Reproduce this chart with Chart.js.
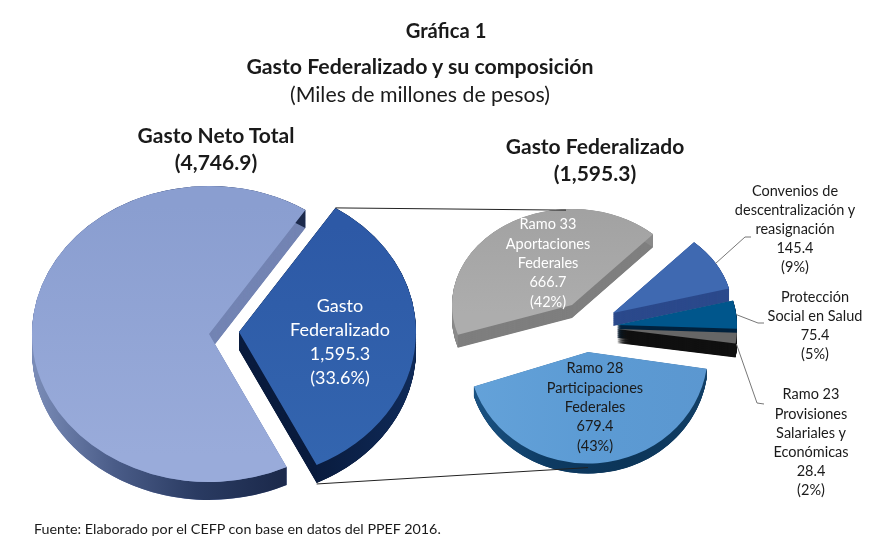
<!DOCTYPE html>
<html lang="es">
<head>
<meta charset="utf-8">
<title>Gráfica 1</title>
<script src="https://cdn.jsdelivr.net/npm/chart.js@4"></script>
<style>
  html, body { margin: 0; padding: 0; background: #fff; }
  #page { position: relative; width: 890px; height: 557px; overflow: hidden; font-family: Lato, sans-serif; color: #1a1a1a; }
  canvas { position: absolute; left: 0; top: 0; }
  .txt { position: absolute; text-align: center; white-space: nowrap; transform: translateX(-50%); }
  .b { font-weight: 700; }
</style>
</head>
<body>
<div id="page">
  <canvas id="totalPie" width="890" height="557"></canvas>
  <canvas id="fedPie" width="890" height="557"></canvas>
</div>
<script>
// datos (miles de millones de pesos)
const totalCategories = ['Gasto Federalizado', 'Resto del gasto'];
const totalValues = [1595.3, 3151.6];
const fedCategories = ['Ramo 33 Aportaciones Federales', 'Convenios de descentralización y reasignación', 'Protección Social en Salud', 'Ramo 23 Provisiones Salariales y Económicas', 'Ramo 28 Participaciones Federales'];
const fedValues = [666.7, 145.4, 75.4, 28.4, 679.4];
const fedShares = ['42%', '9%', '5%', '2%', '43%'];

const fmt = v => v.toLocaleString('en-US', { minimumFractionDigits: 1, maximumFractionDigits: 1 });

// los gradientes se usan ya con el origen en el centro de la rebanada
function hgrad(ctx, x0, x1, stops) {
  const g = ctx.createLinearGradient(x0, 0, x1, 0);
  stops.forEach((c, i) => g.addColorStop(i / (stops.length - 1), c));
  return g;
}
function vgrad(ctx, y0, y1, c0, c1) {
  const g = ctx.createLinearGradient(0, y0, 0, y1);
  g.addColorStop(0, c0);
  g.addColorStop(1, c1);
  return g;
}

// posicion en pantalla de un punto de una rebanada
function slicePoint(chart, i, angle, radiusFactor, extraY) {
  const o = chart.options.plugins.pie3d;
  const el = chart.getDatasetMeta(0).data[i];
  const r = el.outerRadius * (radiusFactor || 1);
  return {
    x: el.x + o.explode[i][0] + r * Math.cos(angle),
    y: el.y + o.explode[i][1] + o.squash[i] * r * Math.sin(angle) + (extraY || 0)
  };
}
const midAngle = el => (el.startAngle + el.endAngle) / 2;

const pie3d = {
  id: 'pie3d',
  beforeDatasetDraw(chart, args, o) {
    const ctx = chart.ctx;
    const arcs = chart.getDatasetMeta(0).data;
    o.order.forEach(i => {
      const el = arcs[i];
      const k = o.squash[i];
      const d = o.depth[i] / k;
      ctx.save();
      ctx.translate(el.x + o.explode[i][0], el.y + o.explode[i][1]);
      ctx.scale(1, k);
      // pared: cortes rectos
      ctx.fillStyle = o.wall[i];
      for (let s = d; s > 0; s -= 0.5) {
        ctx.beginPath();
        ctx.moveTo(0, s);
        ctx.arc(0, s, el.outerRadius, el.startAngle, el.endAngle);
        ctx.closePath();
        ctx.fill();
      }
      // pared: borde exterior
      ctx.fillStyle = o.rim[i];
      ctx.beginPath();
      ctx.arc(0, 0, el.outerRadius, el.startAngle, el.endAngle);
      ctx.arc(0, d, el.outerRadius, el.endAngle, el.startAngle, true);
      ctx.closePath();
      ctx.fill();
      ctx.translate(-el.x, -el.y);
      el.draw(ctx);
      ctx.restore();
    });
    return false;
  }
};

const leaderLines = {
  id: 'leaderLines',
  afterDatasetsDraw(chart) {
    const ctx = chart.ctx;
    const arcs = chart.getDatasetMeta(0).data;
    const other = totalChart.getDatasetMeta(0).data[0];
    // lineas entre las dos graficas
    const a = slicePoint(totalChart, 0, other.startAngle, 1, 0);
    const b = slicePoint(chart, 0, -Math.PI / 2 - 0.05, 1, 1);
    const c = slicePoint(totalChart, 0, other.endAngle, 1, 19);
    const e = slicePoint(chart, 4, Math.PI / 2, 1, 4);
    ctx.strokeStyle = '#222';
    ctx.lineWidth = 1;
    [[a, b], [c, e]].forEach(([p, q]) => {
      ctx.beginPath();
      ctx.moveTo(p.x, p.y);
      ctx.lineTo(q.x, q.y);
      ctx.stroke();
    });
    // lineas guia de las etiquetas
    ctx.strokeStyle = '#777';
    [[1, [[745, 237], [751, 237]]], [2, [[758, 323], [764, 323]]], [3, [[757, 403], [764, 404]]]].forEach(([i, pts]) => {
      const s = slicePoint(chart, i, midAngle(arcs[i]), 1, i === 3 ? 6 : 0);
      ctx.beginPath();
      ctx.moveTo(s.x, s.y);
      pts.forEach(p => ctx.lineTo(p[0], p[1]));
      ctx.stroke();
    });
  }
};

const tctx = document.getElementById('totalPie').getContext('2d');
const totalChart = new Chart(tctx, {
  type: 'pie',
  data: {
    labels: totalCategories,
    datasets: [{
      data: totalValues,
      borderWidth: 0,
      backgroundColor: [vgrad(tctx, 210, 490, '#2d59a6', '#3365af'), vgrad(tctx, 185, 480, '#8a9ed0', '#99abda')]
    }]
  },
  options: {
    responsive: false,
    animation: false,
    rotation: 33,
    layout: { padding: { left: 36, right: 500, top: 160, bottom: 43 } },
    events: [],
    plugins: {
      legend: { display: false },
      tooltip: { enabled: false },
      pie3d: {
        order: [1, 0],
        explode: [[26, -5], [-4, -3]],
        squash: [0.836, 0.836],
        depth: [18, 18],
        wall: ['#0a1c3e', '#7485b4'],
        rim: [hgrad(tctx, 60, 175, ['#08193a', '#0f2a58']), hgrad(tctx, -177, 70, ['#7b8db8', '#4a5c88', '#2a3b62', '#1c2a4c'])]
      }
    }
  },
  plugins: [pie3d]
});

const fctx = document.getElementById('fedPie').getContext('2d');
new Chart(fctx, {
  type: 'pie',
  data: {
    labels: fedCategories,
    datasets: [{
      data: fedValues,
      borderWidth: 0,
      backgroundColor: [
        vgrad(fctx, 209, 335, '#a2a2a2', '#adadad'),
        '#3f69b1',
        '#00568c',
        '#666666',
        hgrad(fctx, 470, 710, ['#64a2d9', '#5c9bd4', '#5b97d0'])
      ]
    }]
  },
  options: {
    responsive: false,
    animation: false,
    rotation: -108,
    layout: { padding: { left: 470, right: 180, top: 205, bottom: 112 } },
    events: [],
    plugins: {
      legend: { display: false },
      tooltip: { enabled: false },
      pie3d: {
        order: [0, 1, 2, 3, 4],
        explode: [[-18, -20], [23, -12], [27, 0], [27, 4], [-2, 27]],
        squash: [0.8, 0.8, 0.8, 0.8, 0.93],
        depth: [13, 13, 13, 14, 10],
        wall: ['#7f7f7f', '#2c4a8c', '#00233f', '#111111', '#0f3d66'],
        rim: ['#8a8a8a', '#2c4a8c', '#00233f', '#111111', hgrad(fctx, -120, 120, ['#1c5586', '#0d3a62', '#0c3558', '#123f66'])]
      }
    }
  },
  plugins: [pie3d, leaderLines]
});

// textos
const page = document.getElementById('page');
function addText(lines, cx, firstY, lineH, size, color, bold) {
  const d = document.createElement('div');
  d.className = 'txt' + (bold ? ' b' : '');
  d.style.cssText = `left:${cx}px;top:${firstY - lineH / 2}px;line-height:${lineH}px;font-size:${size}px;color:${color}`;
  lines.forEach((t, i) => {
    if (i) d.appendChild(document.createElement('br'));
    d.appendChild(document.createTextNode(t));
  });
  page.appendChild(d);
}
const ink = '#1a1a1a';
addText(['Gráfica 1'], 446, 30, 24, 20.2, ink, true);
addText(['Gasto Federalizado y su composición'], 420, 66, 24, 21.3, ink, true);
addText(['(Miles de millones de pesos)'], 420, 94, 24, 21.3, ink, false);
addText(['Gasto Neto Total', `(${fmt(totalValues[0] + totalValues[1])})`], 216, 134, 27, 21, ink, true);
addText(['Gasto Federalizado', `(${fmt(fedValues.reduce((a, b) => a + b, 0))})`], 595, 145, 27, 21, ink, true);
addText(['Gasto', 'Federalizado', fmt(totalValues[0]), '(33.6%)'], 340, 305, 24, 18, '#fff', false);
addText(['Ramo 33', 'Aportaciones', 'Federales', fmt(fedValues[0]), `(${fedShares[0]})`], 548, 224, 19.3, 14.5, '#fff', false);
addText(['Convenios de', 'descentralización y', 'reasignación', fmt(fedValues[1]), `(${fedShares[1]})`], 795, 190, 19, 14.5, ink, false);
addText(['Protección', 'Social en Salud', fmt(fedValues[2]), `(${fedShares[2]})`], 815, 296, 19, 14.5, ink, false);
addText(['Ramo 23', 'Provisiones', 'Salariales y', 'Económicas', fmt(fedValues[3]), `(${fedShares[3]})`], 811, 394, 19.2, 14.5, ink, false);
addText(['Ramo 28', 'Participaciones', 'Federales', fmt(fedValues[4]), `(${fedShares[4]})`], 595, 368, 19.3, 14.5, ink, false);
const src = document.createElement('div');
src.textContent = 'Fuente: Elaborado por el CEFP con base en datos del PPEF 2016.';
src.style.cssText = `position:absolute;left:34px;top:520px;line-height:18px;font-size:14.3px;color:${ink}`;
page.appendChild(src);
</script>
</body>
</html>
